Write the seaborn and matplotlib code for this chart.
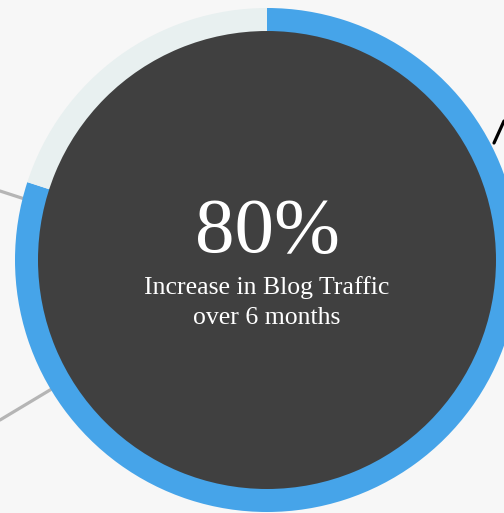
import matplotlib
matplotlib.use("Agg")
import matplotlib.pyplot as plt
import seaborn as sns

# chart values
shares = [80, 20]
share_names = ["Increase", "Rest"]
big_label = "80%"
caption = ["Increase in Blog Traffic", "over 6 months"]

# decorative connector lines that run off the left / right edge (x, y in px from top)
connector_a_x = [0, 40]
connector_a_y = [191, 204]
connector_b_x = [0, 70]
connector_b_y = [420, 378]
connector_c_x = [494, 504]
connector_c_y = [143, 121]

W, H = 504, 513
BG = "#f7f7f7"
BLUE = "#46a4e9"
REST = "#e8f0f0"
DARK = "#404040"

sns.set_theme(style="white")
plt.rcParams["font.family"] = ["Liberation Serif", "DejaVu Serif"]

fig = plt.figure(figsize=(W / 100, H / 100), dpi=100, facecolor=BG)
ax = fig.add_axes([0, 0, 1, 1])
ax.set_facecolor(BG)


def fy(vals):
    return [H - v for v in vals]


for xs, ys, col in [(connector_a_x, connector_a_y, "#b5b5b5"),
                    (connector_b_x, connector_b_y, "#b5b5b5"),
                    (connector_c_x, connector_c_y, "black")]:
    sns.lineplot(x=xs, y=fy(ys), ax=ax, color=col, linewidth=2.3,
                 sort=False, estimator=None, zorder=1)

center = (267, H - 260)
ax.pie(shares, labels=None, colors=[BLUE, REST], startangle=90, counterclock=False,
       radius=252, center=center, wedgeprops=dict(width=24, linewidth=0, zorder=2))
ax.pie([1], colors=[DARK], radius=229, center=center,
       wedgeprops=dict(linewidth=0, zorder=3))

ax.text(center[0], H - 252, big_label, color="white", fontsize=57,
        ha="center", va="baseline", zorder=5)
ax.text(center[0], H - 294, caption[0], color="white", fontsize=18.5,
        ha="center", va="baseline", zorder=5)
ax.text(center[0], H - 324, caption[1], color="white", fontsize=18.5,
        ha="center", va="baseline", zorder=5)

ax.set_xlim(0, W)
ax.set_ylim(0, H)
ax.set_aspect("auto")
ax.axis("off")
if ax.get_legend():
    ax.get_legend().remove()

fig.savefig("out.png", dpi=100, facecolor=BG)
